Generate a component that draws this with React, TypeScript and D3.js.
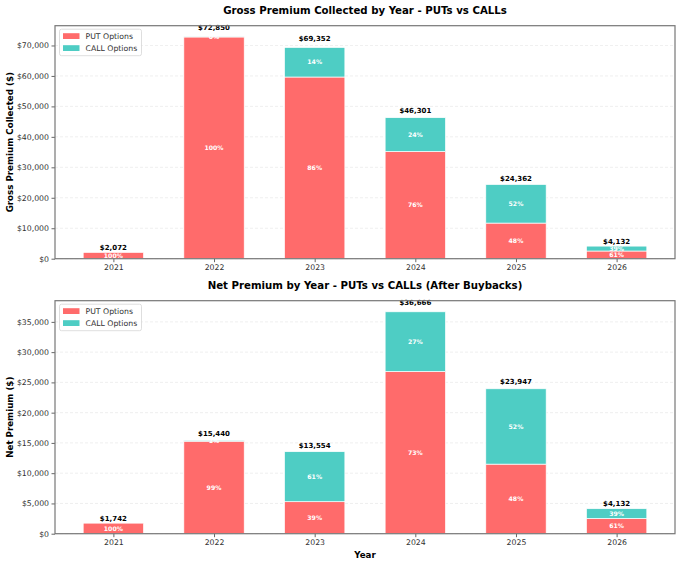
import { useEffect, useRef } from "react";
import * as d3 from "d3";

const years = ["2021", "2022", "2023", "2024", "2025", "2026"];
const grossPut = [2072, 72790, 59643, 35189, 11694, 2521];
const grossCall = [0, 60, 9709, 11112, 12668, 1611];
const netPut = [1742, 15286, 5290, 26800, 11495, 2521];
const netCall = [0, 154, 8264, 9866, 12452, 1611];
const grossTicks = [0, 10000, 20000, 30000, 40000, 50000, 60000, 70000];
const netTicks = [0, 5000, 10000, 15000, 20000, 25000, 30000, 35000];
const seriesNames = ["PUT Options", "CALL Options"];

const W = 680;
const H = 565;
const PUT_COLOR = "#FF6B6B";
const CALL_COLOR = "#4ECDC4";
const FONT = "DejaVu Sans, sans-serif";

interface panelProps {
  top: number;
  bottom: number;
  title: string;
  yLabel: string;
  puts: number[];
  calls: number[];
  ticks: number[];
  showXLabel: boolean;
}

const App = () => {
  const svgRef = useRef<SVGSVGElement>(null);

  useEffect(() => {
    const svg = d3.select(svgRef.current);
    svg.selectAll("*").remove();

    const left = 55;
    const right = 675;

    const drawPanel = (p: panelProps) => {
      const g = svg.append("g");
      const totals = p.puts.map((v, i) => v + p.calls[i]);
      const maxTotal = d3.max(totals)!;

      // x: bar centres at 0..n-1, matplotlib-like 5% margins
      const n = years.length;
      const bw = 0.6;
      const span = n - 1 + bw;
      const x = d3
        .scaleLinear()
        .domain([-bw / 2 - span * 0.05, n - 1 + bw / 2 + span * 0.05])
        .range([left, right]);
      const y = d3
        .scaleLinear()
        .domain([0, maxTotal * 1.05])
        .range([p.bottom, p.top]);

      // grid
      g.selectAll("line.grid")
        .data(p.ticks)
        .enter()
        .append("line")
        .attr("x1", left)
        .attr("x2", right)
        .attr("y1", (d) => y(d))
        .attr("y2", (d) => y(d))
        .attr("stroke", "#b0b0b0")
        .attr("stroke-opacity", 0.25)
        .attr("stroke-width", 0.8)
        .attr("stroke-dasharray", "3,2");

      // bars
      const bars = g
        .selectAll("g.bar")
        .data(years)
        .enter()
        .append("g");
      bars
        .append("rect")
        .attr("x", (_, i) => x(i - bw / 2))
        .attr("width", x(bw) - x(0))
        .attr("y", (_, i) => y(p.puts[i]))
        .attr("height", (_, i) => y(0) - y(p.puts[i]))
        .attr("fill", PUT_COLOR)
        .attr("stroke", "white")
        .attr("stroke-width", 0.7);
      bars
        .append("rect")
        .attr("x", (_, i) => x(i - bw / 2))
        .attr("width", x(bw) - x(0))
        .attr("y", (_, i) => y(totals[i]))
        .attr("height", (_, i) => y(p.puts[i]) - y(totals[i]))
        .attr("fill", CALL_COLOR)
        .attr("stroke", "white")
        .attr("stroke-width", 0.7)
        .attr("display", (_, i) => (p.calls[i] > 0 ? null : "none"));

      // percentage labels
      const pct = (v: number, t: number) => `${Math.round((v / t) * 100)}%`;
      bars
        .append("text")
        .attr("x", (_, i) => x(i))
        .attr("y", (_, i) => y(p.puts[i] / 2))
        .attr("dy", "0.35em")
        .attr("text-anchor", "middle")
        .attr("font-family", FONT)
        .attr("font-weight", "bold")
        .attr("font-size", 6.2)
        .attr("fill", "white")
        .text((_, i) => pct(p.puts[i], totals[i]));
      bars
        .filter((d) => p.calls[years.indexOf(d)] > 0)
        .append("text")
        .attr("x", (d) => x(years.indexOf(d)))
        .attr("y", (d) => {
          const i = years.indexOf(d);
          return y(p.puts[i] + p.calls[i] / 2);
        })
        .attr("dy", "0.35em")
        .attr("text-anchor", "middle")
        .attr("font-family", FONT)
        .attr("font-weight", "bold")
        .attr("font-size", 6.2)
        .attr("fill", "white")
        .text((d) => {
          const i = years.indexOf(d);
          return pct(p.calls[i], totals[i]);
        });

      // total labels
      bars
        .append("text")
        .attr("x", (_, i) => x(i))
        .attr("y", (_, i) => y(totals[i] * 1.02) - 2)
        .attr("text-anchor", "middle")
        .attr("font-family", FONT)
        .attr("font-weight", "bold")
        .attr("font-size", 7)
        .attr("fill", "black")
        .text((_, i) => d3.format("$,.0f")(totals[i]));

      // y axis
      const yAxis = d3
        .axisLeft(y)
        .tickValues(p.ticks)
        .tickSize(3.5)
        .tickPadding(2.5)
        .tickFormat((d) => d3.format("$,.0f")(d as number));
      g.append("g")
        .attr("transform", `translate(${left},0)`)
        .call(yAxis)
        .call((a) => a.select(".domain").remove())
        .call((a) => a.selectAll(".tick line").attr("stroke", "#666"))
        .call((a) =>
          a
            .selectAll(".tick text")
            .attr("font-family", FONT)
            .attr("font-size", 7.75)
            .attr("fill", "#333")
        );

      // x axis
      const xAxis = d3
        .axisBottom(x)
        .tickValues(d3.range(n))
        .tickSize(3.5)
        .tickPadding(2.5)
        .tickFormat((d) => years[d as number]);
      g.append("g")
        .attr("transform", `translate(0,${p.bottom})`)
        .call(xAxis)
        .call((a) => a.select(".domain").remove())
        .call((a) => a.selectAll(".tick line").attr("stroke", "#666"))
        .call((a) =>
          a
            .selectAll(".tick text")
            .attr("font-family", FONT)
            .attr("font-size", 7.75)
            .attr("fill", "#333")
        );

      // frame
      g.append("rect")
        .attr("x", left)
        .attr("y", p.top)
        .attr("width", right - left)
        .attr("height", p.bottom - p.top)
        .attr("fill", "none")
        .attr("stroke", "#777")
        .attr("stroke-width", 1.2);

      // title
      g.append("text")
        .attr("x", (left + right) / 2)
        .attr("y", p.top - 11.5)
        .attr("text-anchor", "middle")
        .attr("font-family", FONT)
        .attr("font-weight", "bold")
        .attr("font-size", 10.2)
        .attr("fill", "black")
        .text(p.title);

      // y label
      g.append("text")
        .attr(
          "transform",
          `translate(12.5,${(p.top + p.bottom) / 2}) rotate(-90)`
        )
        .attr("text-anchor", "middle")
        .attr("font-family", FONT)
        .attr("font-weight", "bold")
        .attr("font-size", 8.7)
        .attr("fill", "black")
        .text(p.yLabel);

      if (p.showXLabel) {
        g.append("text")
          .attr("x", (left + right) / 2)
          .attr("y", p.bottom + 24)
          .attr("text-anchor", "middle")
          .attr("font-family", FONT)
          .attr("font-weight", "bold")
          .attr("font-size", 8.7)
          .attr("fill", "black")
          .text("Year");
      }

      // legend
      const lg = g.append("g").attr("transform", `translate(59.5,${p.top + 3.5})`);
      lg.append("rect")
        .attr("width", 82)
        .attr("height", 26.5)
        .attr("rx", 2)
        .attr("fill", "white")
        .attr("fill-opacity", 0.85)
        .attr("stroke", "#d6d6d6")
        .attr("stroke-width", 0.8);
      const items = lg
        .selectAll("g.item")
        .data(seriesNames)
        .enter()
        .append("g")
        .attr("transform", (_, i) => `translate(0,${7 + i * 12})`);
      items
        .append("rect")
        .attr("x", 3.5)
        .attr("y", -3)
        .attr("width", 16.5)
        .attr("height", 5.8)
        .attr("fill", (_, i) => (i === 0 ? PUT_COLOR : CALL_COLOR));
      items
        .append("text")
        .attr("x", 26)
        .attr("y", 0)
        .attr("dy", "0.35em")
        .attr("font-family", FONT)
        .attr("font-size", 7.75)
        .attr("fill", "#333")
        .text((d) => d);
    };

    drawPanel({
      top: 25.7,
      bottom: 258.7,
      title: "Gross Premium Collected by Year - PUTs vs CALLs",
      yLabel: "Gross Premium Collected ($)",
      puts: grossPut,
      calls: grossCall,
      ticks: grossTicks,
      showXLabel: false,
    });
    drawPanel({
      top: 300.7,
      bottom: 533.7,
      title: "Net Premium by Year - PUTs vs CALLs (After Buybacks)",
      yLabel: "Net Premium ($)",
      puts: netPut,
      calls: netCall,
      ticks: netTicks,
      showXLabel: true,
    });
  }, []);

  return (
    <div style={{ position: "absolute", left: 0, top: 0 }}>
      <svg ref={svgRef} width={W} height={H} style={{ display: "block", background: "white" }} />
    </div>
  );
};

export default App;
